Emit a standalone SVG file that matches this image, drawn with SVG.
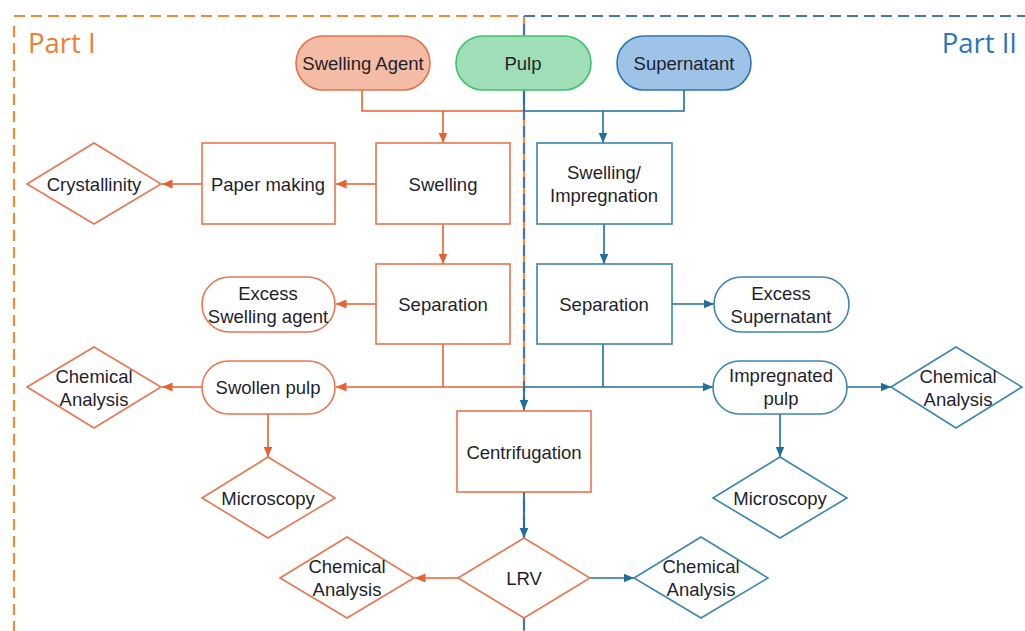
<svg xmlns="http://www.w3.org/2000/svg" width="1025" height="631" viewBox="0 0 1025 631">
<style>
.t{font-family:"Liberation Sans",Arial,sans-serif;font-size:18.5px;fill:#1f1f2b;text-anchor:middle}
.os{fill:#fff;stroke:#EC7550;stroke-width:1.6}
.bs{fill:#fff;stroke:#3B86B5;stroke-width:1.6}
.oc{fill:none;stroke:#E8612F;stroke-width:1.6}
.bc{fill:none;stroke:#1F6E9E;stroke-width:1.6}
.oa{marker-end:url(#ao)}
.ba{marker-end:url(#ab)}
.part{font-family:"Open Sans","Noto Sans",sans-serif;font-size:27.5px}
</style>
<defs>
<marker id="ao" markerUnits="userSpaceOnUse" markerWidth="11" markerHeight="10" refX="10.5" refY="5" orient="auto"><path d="M0,0.5 L10.5,5 L0,9.5 z" fill="#E8612F"/></marker>
<marker id="ab" markerUnits="userSpaceOnUse" markerWidth="11" markerHeight="10" refX="10.5" refY="5" orient="auto"><path d="M0,0.5 L10.5,5 L0,9.5 z" fill="#1F6E9E"/></marker>
</defs>
<rect width="1025" height="631" fill="#fff"/>
<g id="frames">
<path d="M14,16 H524" fill="none" stroke="#F08A3C" stroke-width="2.2" stroke-dasharray="11 6"/>
<path d="M14,26 V631" fill="none" stroke="#F08A3C" stroke-width="2.2" stroke-dasharray="11 6"/>
<path d="M524,16 V631" fill="none" stroke="#F08A3C" stroke-width="2.2" stroke-dasharray="11 6"/>
<path d="M524,16 H1025" fill="none" stroke="#4472C4" stroke-width="2.2" stroke-dasharray="11 6"/>
<path d="M524,24 V631" fill="none" stroke="#4472C4" stroke-width="2.2" stroke-dasharray="11 6"/>
<text class="part" x="28" y="53" fill="#ED7D31">Part I</text>
<text class="part" x="1017" y="53" fill="#2E75B6" text-anchor="end">Part II</text>
</g>
<g id="connectors">
<path class="oc" d="M362,90 V111 H524"/>
<path class="oc oa" d="M443,111 V143"/>
<path class="bc" d="M524,90 V111 H684 V90"/>
<path class="bc ba" d="M603,111 V143"/>
<path class="oc oa" d="M376,184 H336"/>
<path class="oc oa" d="M202,184 H162"/>
<path class="oc oa" d="M443,224 V264"/>
<path class="oc oa" d="M376,304 H336"/>
<path class="oc" d="M443,344 V387"/>
<path class="oc oa" d="M524,387 H336"/>
<path class="oc oa" d="M202,387 H162"/>
<path class="oc oa" d="M268,414 V457"/>
<path class="oc oa" d="M458,578 H415"/>
<path class="bc ba" d="M604,224 V264"/>
<path class="bc ba" d="M672,304 H714"/>
<path class="bc" d="M603,344 V387"/>
<path class="bc ba" d="M524,387 H713"/>
<path class="bc ba" d="M524,387 V410"/>
<path class="bc ba" d="M847,387 H891"/>
<path class="bc ba" d="M780,414 V457"/>
<path class="bc ba" d="M524,492 V538"/>
<path class="bc ba" d="M590,578 H634"/>
</g>
<g id="swelling-agent"><rect x="296" y="36" width="134" height="54" rx="27" fill="#F4BCA5" stroke="#E8714C" stroke-width="1.6"/><text class="t" x="363" y="69.5">Swelling Agent</text></g>
<g id="pulp"><rect x="456" y="36" width="135" height="54" rx="27" fill="#A0DEB8" stroke="#3CC36C" stroke-width="1.6"/><text class="t" x="523" y="69.5">Pulp</text></g>
<g id="supernatant"><rect x="617" y="36" width="134" height="54" rx="27" fill="#9DC3E6" stroke="#2E75B6" stroke-width="1.6"/><text class="t" x="684" y="69.5">Supernatant</text></g>
<g id="swelling"><rect class="os" x="376" y="143" width="134" height="81"/><text class="t" x="443" y="190.5">Swelling</text></g>
<g id="paper-making"><rect class="os" x="202" y="143" width="133" height="81"/><text class="t" x="268" y="190.5">Paper making</text></g>
<g id="crystallinity"><polygon class="os" points="27,184 94,143 161,184 94,224"/><text class="t" x="94" y="190.5">Crystallinity</text></g>
<g id="separation-1"><rect class="os" x="376" y="264" width="134" height="80"/><text class="t" x="443" y="310.5">Separation</text></g>
<g id="excess-swelling-agent"><rect class="os" x="202" y="277" width="133" height="55" rx="27.5"/><text class="t" x="268" y="300">Excess</text><text class="t" x="268" y="323">Swelling agent</text></g>
<g id="swollen-pulp"><rect class="os" x="202" y="361" width="133" height="53" rx="26.5"/><text class="t" x="268" y="393.5">Swollen pulp</text></g>
<g id="chem-1"><polygon class="os" points="27,387 94,347 161,387 94,428"/><text class="t" x="94" y="383">Chemical</text><text class="t" x="94" y="406">Analysis</text></g>
<g id="microscopy-1"><polygon class="os" points="202,498 268,457 335,498 268,538"/><text class="t" x="268" y="504.5">Microscopy</text></g>
<g id="centrifugation"><rect class="os" x="457" y="411" width="134" height="81"/><text class="t" x="524" y="458.5">Centrifugation</text></g>
<g id="lrv"><polygon class="os" points="458,578 524,538 590,578 524,618"/><text class="t" x="524" y="584.5">LRV</text></g>
<g id="chem-3"><polygon class="os" points="280,578 347,537 414,578 347,618"/><text class="t" x="347" y="573">Chemical</text><text class="t" x="347" y="596">Analysis</text></g>
<g id="swelling-impregnation"><rect class="bs" x="537" y="143" width="135" height="81"/><text class="t" x="604" y="179">Swelling/</text><text class="t" x="604" y="202">Impregnation</text></g>
<g id="separation-2"><rect class="bs" x="537" y="264" width="135" height="80"/><text class="t" x="604" y="310.5">Separation</text></g>
<g id="excess-supernatant"><rect class="bs" x="714" y="277" width="135" height="55" rx="27.5"/><text class="t" x="781" y="300">Excess</text><text class="t" x="781" y="323">Supernatant</text></g>
<g id="impregnated-pulp"><rect class="bs" x="713" y="361" width="134" height="53" rx="26.5"/><text class="t" x="781" y="382">Impregnated</text><text class="t" x="781" y="405">pulp</text></g>
<g id="chem-2"><polygon class="bs" points="891,387 956,347 1022,387 956,428"/><text class="t" x="958" y="383">Chemical</text><text class="t" x="958" y="406">Analysis</text></g>
<g id="microscopy-2"><polygon class="bs" points="713,498 780,457 847,498 780,538"/><text class="t" x="780" y="504.5">Microscopy</text></g>
<g id="chem-4"><polygon class="bs" points="634,578 701,537 768,578 701,618"/><text class="t" x="701" y="573">Chemical</text><text class="t" x="701" y="596">Analysis</text></g>
</svg>
